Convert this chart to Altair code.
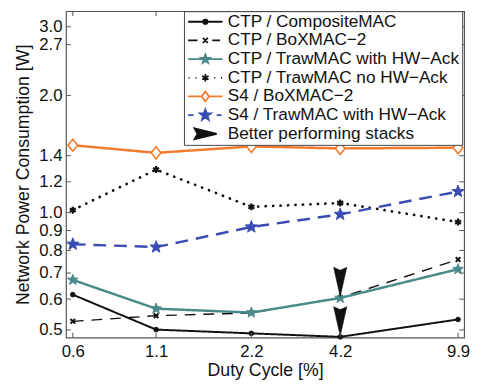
import math
import altair as alt
import pandas as pd

# ---- data ----
duty = [0.6, 1.1, 2.2, 4.2, 9.9]
ctp_composite = [0.616, 0.501, 0.490, 0.480, 0.532]
ctp_boxmac = [0.526, 0.544, 0.553, 0.605, 0.758]
ctp_traw_ack = [0.672, 0.567, 0.554, 0.604, 0.716]
ctp_traw_noack = [1.015, 1.29, 1.035, 1.059, 0.946]
s4_boxmac = [1.49, 1.424, 1.479, 1.462, 1.468]
s4_traw_ack = [0.830, 0.816, 0.919, 0.990, 1.133]
arrow_x = [4.2, 4.2]
arrow_y = [0.664, 0.526]

names = [
    "CTP / CompositeMAC",
    "CTP / BoXMAC−2",
    "CTP / TrawMAC with HW−Ack",
    "CTP / TrawMAC no HW−Ack",
    "S4 / BoXMAC−2",
    "S4 / TrawMAC with HW−Ack",
    "Better performing stacks",
]
y_ticks = [0.5, 0.6, 0.7, 0.8, 0.9, 1.0, 1.2, 1.4, 2.0, 2.7, 3.0]

TEAL = "#4a8a8a"
ORANGE = "#f27a2a"
BLUE = "#3b4db3"
BLACK = "#111111"

W, H = 405, 332
FONT = "Liberation Sans"


def star(R, k=0.42):
    pts = []
    for i in range(10):
        a = -math.pi / 2 + i * math.pi / 5
        rr = R if i % 2 == 0 else R * k
        pts.append(f"{rr*math.cos(a):.3f},{rr*math.sin(a):.3f}")
    return "M" + "L".join(pts) + "Z"


XPATH = "M-1,-1L1,1M-1,1L1,-1"
AST = "M0,-1L0,1M-0.87,-0.5L0.87,0.5M-0.87,0.5L0.87,-0.5"
DIAM = "M0,-1L0.8,0L0,1L-0.8,0Z"
ARROW = "M-0.45,-1L0,-0.8L0.45,-1L0,1Z"

xs = alt.Scale(type="log", domain=[0.571, 10.35], nice=False)
ys = alt.Scale(type="log", domain=[0.478, 3.29], nice=False)

X = alt.X("x:Q", scale=xs, axis=alt.Axis(values=duty, format=".1f", title="Duty Cycle [%]",
                                          ticks=False, domain=False, grid=False,
                                          labelPadding=6, titlePadding=3))
Y = alt.Y("y:Q", scale=ys, axis=alt.Axis(values=y_ticks, format=".1f",
                                          title="Network Power Consumption [W]",
                                          ticks=False, domain=False, grid=False,
                                          labelPadding=4, titlePadding=7))

series = [
    dict(v=ctp_composite, color=BLACK, w=2, dash=[1, 0], cap="butt",
         shape="circle", size=22, fill=BLACK, sw=1),
    dict(v=ctp_boxmac, color=BLACK, w=1.4, dash=[11, 8], cap="butt",
         shape=XPATH, size=22, fill=BLACK, sw=2),
    dict(v=ctp_traw_ack, color=TEAL, w=2.5, dash=[1, 0], cap="butt",
         shape=star(1), size=130, fill=TEAL, sw=1),
    dict(v=ctp_traw_noack, color=BLACK, w=2.8, dash=[0.1, 7.5], cap="round",
         shape=AST, size=50, fill=BLACK, sw=2.2),
    dict(v=s4_boxmac, color=ORANGE, w=2.5, dash=[1, 0], cap="butt",
         shape=DIAM, size=150, fill="white", sw=1.6),
    dict(v=s4_traw_ack, color=BLUE, w=2.5, dash=[13, 8], cap="butt",
         shape=star(1), size=170, fill=BLUE, sw=1),
]

layers = []
for name, s in zip(names, series):
    df = pd.DataFrame({"x": duty, "y": s["v"], "series": name})
    base = alt.Chart(df)
    layers.append(base.mark_line(color=s["color"], strokeWidth=s["w"],
                                 strokeDash=s["dash"], strokeCap=s["cap"]).encode(x=X, y=Y))
    layers.append(base.mark_point(shape=s["shape"], size=s["size"], fill=s["fill"],
                                  stroke=s["color"], strokeWidth=s["sw"], opacity=1,
                                  fillOpacity=1, strokeOpacity=1).encode(x=X, y=Y))

arrows_df = pd.DataFrame({"x": arrow_x, "y": arrow_y})
layers.append(alt.Chart(arrows_df).mark_point(shape=ARROW, size=900, fill=BLACK,
                                              stroke=BLACK, strokeWidth=0.5, opacity=1,
                                              fillOpacity=1).encode(x=X, y=Y))

# inward tick marks on all four sides
yt_df = pd.DataFrame({"y": y_ticks})
xt_df = pd.DataFrame({"x": duty})
for xv in [2.5, W - 2.5]:
    layers.append(alt.Chart(yt_df).mark_tick(orient="horizontal", size=5, thickness=1,
                                             color="#555555", opacity=1)
                  .encode(y=Y, x=alt.value(xv)))
for yv in [2.5, H - 2.5]:
    layers.append(alt.Chart(xt_df).mark_tick(orient="vertical", size=5, thickness=1,
                                             color="#555555", opacity=1)
                  .encode(x=X, y=alt.value(yv)))

# legend-only layer (no marks drawn)
leg_paths = [
    "M-3.5,0L3.5,0M-0.45,0A0.45,0.45,0,1,0,0.45,0A0.45,0.45,0,1,0,-0.45,0Z",
    "M-3.5,0L-1.6,0M-0.5,-0.5L0.5,0.5M-0.5,0.5L0.5,-0.5M1.4,0L3.0,0",
    "M-3.5,0L3.5,0" + star(0.95),
    "M-3.4,0L-3.2,0M-2.0,0L-1.8,0M1.8,0L2.0,0M3.2,0L3.4,0"
    "M0,-0.75L0,0.75M-0.65,-0.37L0.65,0.37M-0.65,0.37L0.65,-0.37",
    "M-3.5,0L-0.75,0M0.75,0L3.5,0" + "M0,-1L0.75,0L0,1L-0.75,0Z",
    "M-3.5,0L-2.4,0M2.3,0L3.3,0" + star(1.2),
    "M-2.2,-1.1L-1.6,0L-2.2,1.1L2.3,0Z",
]
leg_strokes = [BLACK, BLACK, TEAL, BLACK, ORANGE, BLUE, BLACK]
leg_fills = [BLACK, BLACK, TEAL, BLACK, "white", BLUE, BLACK]


def make_legend():
    return alt.Legend(title=None, orient="none", legendX=120, legendY=0)


leg_df = pd.DataFrame({"series": names})
layers.append(
    alt.Chart(leg_df).transform_filter("false").mark_point(opacity=1, filled=True).encode(
        shape=alt.Shape("series:N", scale=alt.Scale(domain=names, range=leg_paths),
                        legend=make_legend()),
        stroke=alt.Stroke("series:N", scale=alt.Scale(domain=names, range=leg_strokes),
                          legend=make_legend()),
        fill=alt.Fill("series:N", scale=alt.Scale(domain=names, range=leg_fills),
                      legend=make_legend()),
    )
)

chart = alt.layer(*layers).properties(
    width=W, height=H,
    padding={"left": 59, "top": 0, "right": 9, "bottom": 44},
    autosize=alt.AutoSizeParams(type="none"),
).configure_view(stroke="#555555", strokeWidth=1.2).configure_axis(
    labelFont=FONT, titleFont=FONT, labelFontSize=17, titleFontSize=18,
    labelColor=BLACK, titleColor=BLACK, titleFontWeight="normal",
).configure_legend(
    fillColor="white", strokeColor="#444444", padding=2,
    rowPadding=0, labelFontSize=17.5, labelFont=FONT, labelColor=BLACK,
    symbolSize=100, symbolOffset=11, labelOffset=14,
    symbolStrokeWidth=1.8, labelLimit=400,
)

chart.save("out.html", embed_options={"renderer": "svg", "actions": False})
